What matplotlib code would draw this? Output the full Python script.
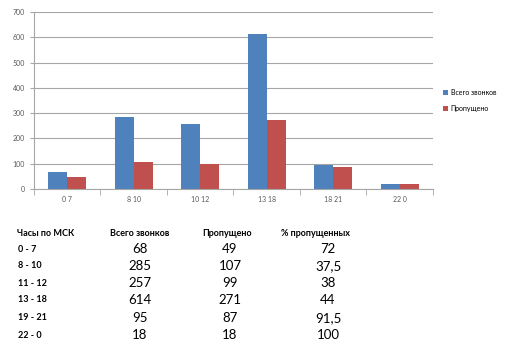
import numpy as np
import matplotlib
matplotlib.use("Agg")
import matplotlib.pyplot as plt

plt.rcParams['font.family'] = ['Lato', 'DejaVu Sans']

periods = ['0 7', '8 10', '10 12', '13 18', '18 21', '22 0']
row_labels = ['0 - 7', '8 - 10', '11 - 12', '13 - 18', '19 - 21', '22 - 0']
total_calls = [68, 285, 257, 614, 95, 18]
missed_calls = [49, 107, 99, 271, 87, 18]
missed_pct = ['72', '37,5', '38', '44', '91,5', '100']
headers = ['Часы по МСК', 'Всего звонков', 'Пропущено', '% пропущенных']

blue = '#4f81bd'
red = '#c0504d'

fig = plt.figure(figsize=(5.08, 3.5), dpi=100)
ax = fig.add_axes([0.067, 0.46, 0.785, 0.506])

x = np.arange(len(periods))
w = 0.285
ax.bar(x - w / 2, total_calls, w, color=blue, label='Всего звонков')
ax.bar(x + w / 2, missed_calls, w, color=red, label='Пропущено')

ax.set_xlim(-0.5, len(periods) - 0.5)
ax.set_ylim(0, 700)
ax.set_yticks(range(0, 701, 100))
ax.yaxis.grid(True, color='#a6a6a6', linewidth=0.8)
ax.set_axisbelow(True)
for s in ['top', 'right']:
    ax.spines[s].set_visible(False)
ax.spines['left'].set_color('#a6a6a6')
ax.spines['bottom'].set_color('#a6a6a6')

ax.set_xticks(x)
ax.set_xticklabels(periods)
ax.set_xticks(np.arange(-0.5, len(periods)), minor=True)
ax.tick_params(axis='x', which='major', length=0, labelsize=5, colors='#595959', pad=5)
ax.tick_params(axis='x', which='minor', length=4, color='#a6a6a6')
ax.tick_params(axis='y', length=3, color='#a6a6a6', labelsize=5, labelcolor='#595959')

ax.legend(loc='center left', bbox_to_anchor=(1.01, 0.5), frameon=False,
          fontsize=5, handlelength=0.7, handleheight=0.7, labelspacing=1.2,
          handletextpad=0.4)

# table below the chart
col_x = [17, 110, 202, 281]
num_x = [140, 230, 328]
fig.text(col_x[0] / 508, 1 - 233 / 350, headers[0], fontsize=6.5, weight='bold', va='center')
for cx, h in zip(col_x[1:], headers[1:]):
    fig.text(cx / 508, 1 - 233 / 350, h, fontsize=6.5, weight='bold', va='center')

row_y = [249, 266, 283, 300, 318, 335]
for i, ry in enumerate(row_y):
    yy = 1 - ry / 350
    fig.text(18 / 508, yy, row_labels[i], fontsize=6.5, weight='bold', va='center')
    vals = [str(total_calls[i]), str(missed_calls[i]), missed_pct[i]]
    for nx, v in zip(num_x, vals):
        fig.text(nx / 508, yy, v, fontsize=9.5, ha='center', va='center')

fig.savefig('out.png', dpi=100)
